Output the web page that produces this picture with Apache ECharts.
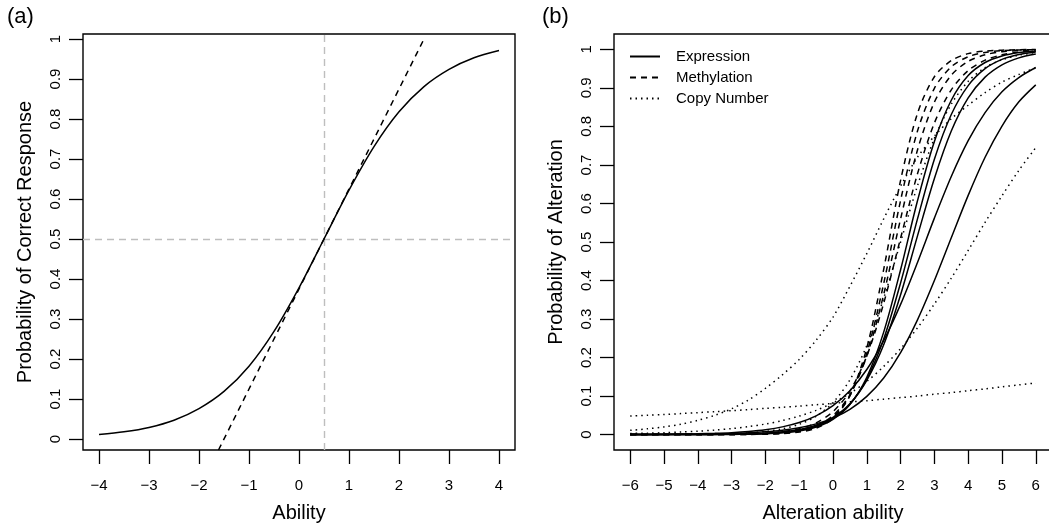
<!DOCTYPE html>
<html><head><meta charset="utf-8">
<script src="https://cdn.jsdelivr.net/npm/echarts@6/dist/echarts.min.js"></script>
<style>html,body{margin:0;padding:0;background:#fff}#c{width:1049px;height:527px}</style>
</head><body><div id="c"></div>
<script>
// ---------- Panel (a) data ----------
const abilityA = [-4, -3.5, -3, -2.5, -2, -1.5, -1, -0.5, 0, 0.5, 1, 1.5, 2, 2.5, 3, 3.5, 4];
const probA = [0.011, 0.018, 0.029, 0.047, 0.076, 0.119, 0.182, 0.269, 0.378, 0.5, 0.622, 0.731, 0.818, 0.881, 0.924, 0.953, 0.971];
const tangentX = [-1.61, 2.5];
const tangentY = [-0.0275, 1.0];
const refAbility = 0.5;
const refProb = 0.5;
const ticksAx = [-4, -3, -2, -1, 0, 1, 2, 3, 4];
const ticksAy = [0, 0.1, 0.2, 0.3, 0.4, 0.5, 0.6, 0.7, 0.8, 0.9, 1];

// ---------- Panel (b) data ----------
const abilityB = [-6, -5.5, -5, -4.5, -4, -3.5, -3, -2.5, -2, -1.5, -1, -0.5, 0, 0.5, 1, 1.5, 2, 2.5, 3, 3.5, 4, 4.5, 5, 5.5, 6];
const expression1 = [0, 0.00001, 0.00003, 0.00006, 0.00013, 0.00026, 0.0005, 0.0011, 0.0023, 0.0047, 0.0096, 0.0195, 0.0395, 0.078, 0.149, 0.266, 0.428, 0.607, 0.761, 0.868, 0.932, 0.966, 0.983, 0.992, 0.996];
const expression2 = [0.00001, 0.00003, 0.00005, 0.0001, 0.0002, 0.0004, 0.0008, 0.0015, 0.0029, 0.0057, 0.0112, 0.0217, 0.0418, 0.079, 0.144, 0.248, 0.394, 0.56, 0.715, 0.831, 0.906, 0.95, 0.974, 0.9865, 0.993];
const expression3 = [0.00003, 0.00005, 0.0001, 0.00017, 0.0003, 0.0006, 0.0011, 0.002, 0.0038, 0.0071, 0.0133, 0.0244, 0.0448, 0.08, 0.141, 0.233, 0.363, 0.516, 0.665, 0.788, 0.874, 0.928, 0.96, 0.978, 0.988];
const expression4 = [0.0003, 0.0005, 0.0008, 0.0013, 0.002, 0.0032, 0.0051, 0.0081, 0.0127, 0.02, 0.0314, 0.0487, 0.075, 0.114, 0.169, 0.244, 0.338, 0.447, 0.562, 0.67, 0.763, 0.836, 0.89, 0.927, 0.953];
const expression5 = [0.0002, 0.0003, 0.0005, 0.0008, 0.0012, 0.0019, 0.003, 0.0047, 0.0074, 0.0115, 0.0179, 0.0278, 0.0429, 0.0657, 0.0993, 0.147, 0.213, 0.298, 0.4, 0.511, 0.621, 0.72, 0.801, 0.864, 0.908];
const methylation1 = [0, 0, 0, 0.00001, 0.00002, 0.00006, 0.00015, 0.0004, 0.001, 0.0025, 0.0065, 0.0166, 0.0417, 0.101, 0.225, 0.429, 0.66, 0.834, 0.929, 0.971, 0.989, 0.9956, 0.998, 0.9993, 1.0];
const methylation2 = [0, 0, 0.00001, 0.00002, 0.00004, 0.0001, 0.00025, 0.0006, 0.0014, 0.0034, 0.0081, 0.0191, 0.0447, 0.101, 0.212, 0.392, 0.608, 0.788, 0.899, 0.955, 0.981, 0.992, 0.997, 0.9986, 0.999];
const methylation3 = [0, 0.00001, 0.00002, 0.00004, 0.00009, 0.0002, 0.0004, 0.001, 0.0021, 0.0047, 0.0104, 0.0228, 0.0493, 0.103, 0.204, 0.364, 0.56, 0.739, 0.863, 0.933, 0.969, 0.986, 0.994, 0.997, 0.999];
const methylation4 = [0.00001, 0.00003, 0.00006, 0.00012, 0.0002, 0.0005, 0.001, 0.0019, 0.0038, 0.0077, 0.0154, 0.0305, 0.0595, 0.113, 0.204, 0.341, 0.51, 0.677, 0.809, 0.895, 0.945, 0.972, 0.986, 0.993, 0.996];
const copyNumber1 = [0.048, 0.05, 0.052, 0.0545, 0.057, 0.0595, 0.062, 0.065, 0.068, 0.071, 0.074, 0.0775, 0.081, 0.085, 0.088, 0.092, 0.096, 0.1, 0.105, 0.109, 0.114, 0.1185, 0.124, 0.129, 0.134];
const copyNumber2 = [0.011, 0.015, 0.02, 0.027, 0.037, 0.05, 0.067, 0.09, 0.12, 0.155, 0.195, 0.245, 0.305, 0.385, 0.47, 0.56, 0.645, 0.72, 0.775, 0.82, 0.855, 0.888, 0.915, 0.935, 0.952];
const copyNumber3 = [0.003, 0.0037, 0.0049, 0.0066, 0.0088, 0.0117, 0.0155, 0.0207, 0.0274, 0.0364, 0.048, 0.063, 0.0824, 0.107, 0.138, 0.177, 0.223, 0.277, 0.339, 0.406, 0.478, 0.551, 0.62, 0.686, 0.745];
const copyNumber4 = [0.0001, 0.0001, 0.0002, 0.0004, 0.0008, 0.0014, 0.0025, 0.0045, 0.0082, 0.0148, 0.0266, 0.0474, 0.0832, 0.142, 0.231, 0.354, 0.5, 0.646, 0.769, 0.858, 0.917, 0.953, 0.973, 0.985, 0.992];
const ticksBx = [-6, -5, -4, -3, -2, -1, 0, 1, 2, 3, 4, 5, 6];
const ticksBy = [0, 0.1, 0.2, 0.3, 0.4, 0.5, 0.6, 0.7, 0.8, 0.9, 1];

const groupNames = ['Expression', 'Methylation', 'Copy Number'];
const groupSeries = [
  [expression1, expression2, expression3, expression4, expression5],
  [methylation1, methylation2, methylation3, methylation4],
  [copyNumber1, copyNumber2, copyNumber3, copyNumber4]
];

// ---------- styling ----------
const FONT = "'Liberation Sans', Arial, Helvetica, sans-serif";
const LW = 1.5;
const dashStyles = ['solid', [6, 5], [1.5, 4]];
const pairs = (xs, ys) => xs.map((x, i) => [x, ys[i]]);
const fmtNum = v => String(v).replace('-', '\u2212');

function makeXAxis(grid, min, max, ticks, name) {
  return {
    gridIndex: grid, type: 'value', min: min, max: max,
    axisLine: { show: false, onZero: false }, splitLine: { show: false },
    axisTick: { show: true, inside: false, length: 14, customValues: ticks, lineStyle: { color: '#000', width: 1.3 } },
    axisLabel: { customValues: ticks, formatter: fmtNum, margin: 28, fontSize: 15, color: '#000', fontFamily: FONT },
    name: name, nameLocation: 'middle', nameGap: 53,
    nameTextStyle: { fontSize: 20, color: '#000', fontFamily: FONT }
  };
}
function makeYAxis(grid, min, max, ticks, name) {
  return {
    gridIndex: grid, type: 'value', min: min, max: max,
    axisLine: { show: false, onZero: false }, splitLine: { show: false },
    axisTick: { show: true, inside: false, length: 14, customValues: ticks, lineStyle: { color: '#000', width: 1.3 } },
    axisLabel: { customValues: ticks, formatter: fmtNum, rotate: 90, margin: 20, fontSize: 15, color: '#000', fontFamily: FONT },
    name: name, nameLocation: 'middle', nameGap: 48,
    nameTextStyle: { fontSize: 20, color: '#000', fontFamily: FONT }
  };
}

const series = [];
// panel (a) curve with reference lines
series.push({
  type: 'line', xAxisIndex: 0, yAxisIndex: 0, data: pairs(abilityA, probA),
  smooth: 0.3, showSymbol: false, symbol: 'none', silent: true, z: 3,
  lineStyle: { color: '#000', width: LW },
  markLine: {
    silent: true, symbol: ['none', 'none'], label: { show: false }, z: 1,
    lineStyle: { color: '#bebebe', type: [7, 5], width: 1.4 },
    emphasis: { disabled: true },
    data: [{ xAxis: refAbility }, { yAxis: refProb }]
  }
});
series.push({
  type: 'line', xAxisIndex: 0, yAxisIndex: 0, data: pairs(tangentX, tangentY),
  showSymbol: false, symbol: 'none', silent: true, z: 3,
  lineStyle: { color: '#000', width: LW, type: [6, 5] }
});
// panel (b) curves
groupSeries.forEach((list, g) => {
  list.forEach(vals => {
    series.push({
      name: groupNames[g], type: 'line', xAxisIndex: 1, yAxisIndex: 1,
      data: pairs(abilityB, vals), smooth: 0.3,
      showSymbol: false, symbol: 'none', silent: true,
      lineStyle: { color: '#000', width: LW, type: dashStyles[g] },
      itemStyle: { color: '#000' }
    });
  });
});

const chart = echarts.init(document.getElementById('c'), null, { renderer: 'canvas' });
chart.setOption({
  animation: false,
  backgroundColor: '#fff',
  grid: [
    { left: 83, top: 34, width: 432, height: 416, show: true, borderColor: '#000', borderWidth: 1.4, backgroundColor: 'transparent', outerBoundsMode: 'none' },
    { left: 614, top: 34, width: 438, height: 416, show: true, borderColor: '#000', borderWidth: 1.4, backgroundColor: 'transparent', outerBoundsMode: 'none' }
  ],
  xAxis: [
    makeXAxis(0, -4.32, 4.32, ticksAx, 'Ability'),
    makeXAxis(1, -6.48, 6.48, ticksBx, 'Alteration ability')
  ],
  yAxis: [
    makeYAxis(0, -0.0275, 1.0125, ticksAy, 'Probability of Correct Response'),
    makeYAxis(1, -0.04, 1.04, ticksBy, 'Probability of Alteration')
  ],
  legend: {
    data: groupNames, orient: 'vertical', left: 629, top: 49, padding: 0,
    itemWidth: 30, itemHeight: 14, itemGap: 6, selectedMode: false,
    itemStyle: { opacity: 0 },
    textStyle: { fontSize: 15, color: '#000', fontFamily: FONT, padding: [0, 0, 0, 11] }
  },
  graphic: [
    { type: 'text', left: 7, top: 6, style: { text: '(a)', fontSize: 22, fill: '#000', fontFamily: FONT } },
    { type: 'text', left: 542, top: 6, style: { text: '(b)', fontSize: 22, fill: '#000', fontFamily: FONT } }
  ],
  series: series
});
</script>
</body></html>
